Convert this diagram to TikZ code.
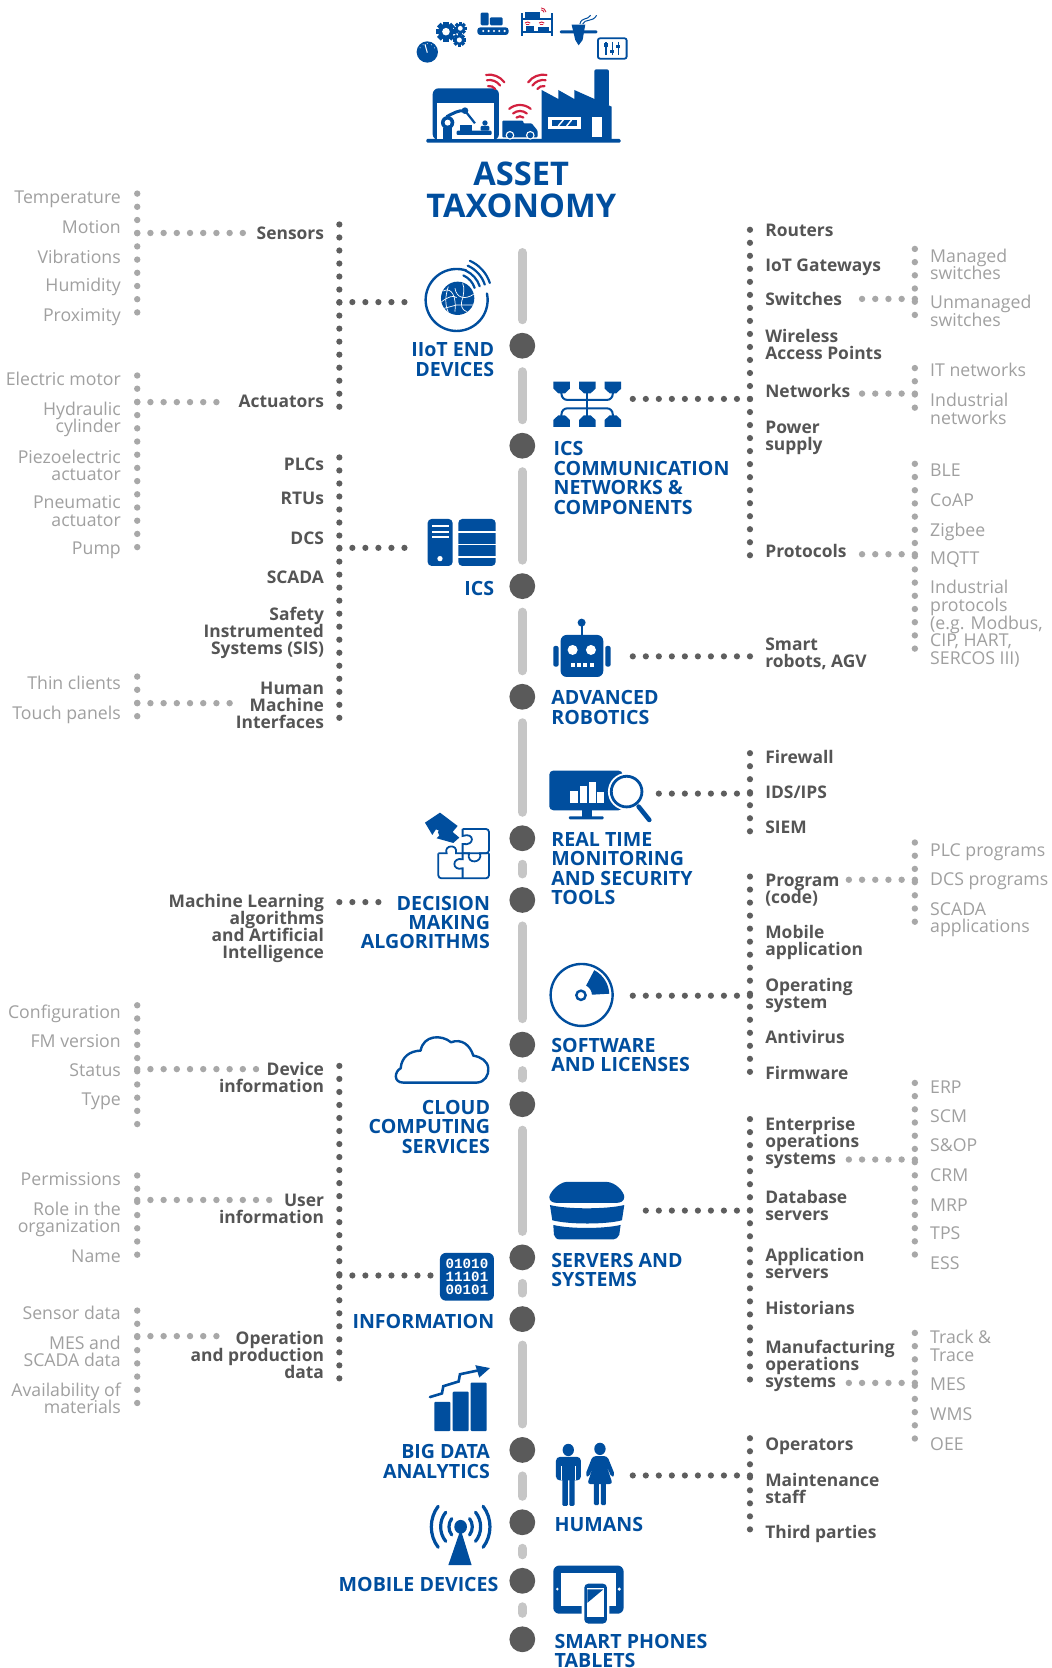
\documentclass[tikz,border=0pt]{standalone}
\usepackage{fontspec}
\setmainfont{Open Sans}
\newfontfamily\binfont{Liberation Mono}
\definecolor{blu}{HTML}{004E9E}
\definecolor{rd}{HTML}{D2213F}
\definecolor{dkt}{HTML}{555555}
\definecolor{ltt}{HTML}{A0A0A0}
\definecolor{dkd}{HTML}{5E5E5E}
\definecolor{ltd}{HTML}{A8A8A8}
\definecolor{spn}{HTML}{C6C6C6}
\definecolor{hubc}{HTML}{5A5A5A}
\tikzset{
 lr/.style={font=\fontsize{8.85}{8.8}\selectfont\lineskiplimit -20pt\relax,text=ltt,inner sep=0,align=right,anchor=base east,yshift=-3.4pt,xshift=.5pt},
 ll/.style={lr,align=left,anchor=base west,xshift=-1pt},
 dr/.style={font=\bfseries\fontsize{8.7}{8.5}\selectfont\lineskiplimit -20pt\relax,text=dkt,inner sep=0,align=right,anchor=base east,yshift=-3.4pt,xshift=.5pt},
 dl/.style={dr,align=left,anchor=base west,xshift=-1pt},
 br/.style={font=\bfseries\fontsize{9.8}{9.7}\selectfont\lineskiplimit -20pt\relax,text=blu,inner sep=0,align=right,anchor=base east,yshift=-4pt},
 bl/.style={br,align=left,anchor=base west},
 ttl/.style={font=\bfseries\fontsize{16.3}{16}\selectfont\lineskiplimit -20pt\relax,text=blu,inner sep=0,align=center,anchor=base,yshift=-5.8pt},
 hub/.style={circle,fill=hubc,minimum size=12.9pt,inner sep=0},
 spine/.style={color=spn,line width=4.6pt,line cap=round,shorten <=6.4pt,shorten >=6.4pt},
 dd/.style={color=dkd,line width=3.1pt,line cap=round,dash pattern=on 0pt off 6.51pt},
 ld/.style={color=ltd,line width=3.2pt,line cap=round,dash pattern=on 0pt off 6.6pt},
 z1/.style={shift={(329,0)},scale=.3133},
 z4/.style={shift={(376,470)},scale=.3133},
 z5/.style={shift={(366.6,1034)},xscale=.3133,yscale=.3406},
}
\newcommand{\Wifi}[6][rd]{% colour, cx,cy, dir, half, list
 \foreach \r/\w in {#6}{\draw[#1,line width=\w pt,line cap=round] (#2,#3) ++(#4-#5:\r) arc[start angle=#4-#5,end angle=#4+#5,radius=\r];}}
\newcommand{\Gear}[3]{% x,y,r
 \foreach \a in {0,45,...,315}{\fill[blu,rotate around={\a:(#1,#2)}] (#1-.26*#3,#2) rectangle (#1+.26*#3,#2-#3);}
 \fill[blu] (#1,#2) circle (.78*#3);
 \fill[white] (#1,#2) circle (.38*#3);}
\begin{document}
\begin{tikzpicture}[x=0.5319pt,y=-0.5319pt]
\useasboundingbox (0,0) rectangle (988,1568);
\fill[white] (0,0) rectangle (988,1568);
%---------- spine
\coordinate (c0) at (491,237.5);
\foreach \n/\y in {1/325,2/419,3/551,4/655,5/788,6/846,7/982,8/1038,9/1182,10/1240,11/1363,12/1431,13/1486,14/1541}{\node[hub] (c\n) at (491,\y) {};}
\draw[spine,shorten <=0pt] (c0) -- (c1);
\foreach \a/\b in {1/2,2/3,3/4,4/5,5/6,6/7,7/8,8/9,9/10,10/11,11/12,12/13,13/14}{\draw[spine] (c\a) -- (c\b);}
%---------- dotted connectors: left light
\coordinate (a1) at (129,182); \coordinate (a2) at (129,296); \coordinate (a3) at (129,219); \coordinate (a4) at (230,219);
\coordinate (b1) at (129,353); \coordinate (b2) at (129,523); \coordinate (b3) at (129,378); \coordinate (b4) at (215,378);
\coordinate (e1) at (129,636); \coordinate (e2) at (129,677); \coordinate (e3) at (129,661); \coordinate (e4) at (224,661);
\coordinate (f1) at (129,945); \coordinate (f2) at (129,1066); \coordinate (f3) at (129,1005); \coordinate (f4) at (242,1005);
\coordinate (g1) at (129,1105); \coordinate (g2) at (129,1186); \coordinate (g3) at (129,1128); \coordinate (g4) at (254,1128);
\coordinate (h1) at (129,1232); \coordinate (h2) at (129,1326); \coordinate (h3) at (129,1256); \coordinate (h4) at (210,1256);
\foreach \k in {a,b,e,f,g,h}{\draw[ld] (\k1) -- (\k2); \draw[ld] (\k3) -- (\k4);}
%---------- left dark
\coordinate (i1) at (319,211); \coordinate (i2) at (319,383); \coordinate (i3) at (319,284); \coordinate (i4) at (387.5,284);
\coordinate (j1) at (319,430); \coordinate (j2) at (319,683); \coordinate (j3) at (319,515); \coordinate (j4) at (387.5,515);
\coordinate (k3) at (319,848); \coordinate (k4) at (363,848);
\coordinate (l1) at (319,1002); \coordinate (l2) at (319,1299); \coordinate (l3) at (319,1199); \coordinate (l4) at (405,1199);
\foreach \k in {i,j,l}{\draw[dd] (\k1) -- (\k2);}
\foreach \k in {i,j,k,l}{\draw[dd] (\k3) -- (\k4);}
%---------- right dark
\coordinate (m1) at (705,216); \coordinate (m2) at (705,522); \coordinate (m3) at (705,375); \coordinate (m4) at (593,375);
\coordinate (n3) at (705,617); \coordinate (n4) at (586,617);
\coordinate (o1) at (705,708); \coordinate (o2) at (705,786); \coordinate (o3) at (705,746); \coordinate (o4) at (617,746);
\coordinate (p1) at (705,824); \coordinate (p2) at (705,1013); \coordinate (p3) at (705,936); \coordinate (p4) at (591,936);
\coordinate (q1) at (705,1052); \coordinate (q2) at (705,1306); \coordinate (q3) at (705,1138); \coordinate (q4) at (600,1138);
\coordinate (r1) at (705,1352); \coordinate (r2) at (705,1448); \coordinate (r3) at (705,1387); \coordinate (r4) at (591,1387);
\foreach \k in {m,o,p,q,r}{\draw[dd] (\k1) -- (\k2);}
\foreach \k in {m,n,o,p,q,r}{\draw[dd] (\k3) -- (\k4);}
%---------- right light
\coordinate (s1) at (860,234); \coordinate (s2) at (860,305); \coordinate (s3) at (860,281); \coordinate (s4) at (806,281);
\coordinate (t1) at (860,346); \coordinate (t2) at (860,395); \coordinate (t3) at (860,370); \coordinate (t4) at (809,370);
\coordinate (u1) at (860,436); \coordinate (u2) at (860,618); \coordinate (u3) at (860,521); \coordinate (u4) at (809,521);
\coordinate (v1) at (860,792); \coordinate (v2) at (860,877); \coordinate (v3) at (860,827); \coordinate (v4) at (797,827);
\coordinate (w1) at (860,1018); \coordinate (w2) at (860,1190); \coordinate (w3) at (860,1090); \coordinate (w4) at (797,1090);
\coordinate (y1) at (860,1253); \coordinate (y2) at (860,1361); \coordinate (y3) at (860,1300); \coordinate (y4) at (797,1300);
\foreach \k in {s,t,u,v,w,y}{\draw[ld] (\k1) -- (\k2); \draw[ld] (\k3) -- (\k4);}
%---------- title
\node[ttl] (title) at (490,194) {ASSET\\TAXONOMY};
%---------- left light text
\node[lr] (l01) at (113,185) {Temperature};
\node[lr] (l02) at (113,213) {Motion};
\node[lr] (l03) at (113,241) {Vibrations};
\node[lr] (l04) at (113,268) {Humidity};
\node[lr] (l05) at (113,296) {Proximity};
\node[lr] (l06) at (113,356) {Electric motor};
\node[lr] (l07) at (113,400.5) {Hydraulic\\cylinder};
\node[lr] (l08) at (113,445.5) {Piezoelectric\\actuator};
\node[lr] (l09) at (113,488.5) {Pneumatic\\actuator};
\node[lr] (l10) at (113,515) {Pump};
\node[lr] (l11) at (113,642) {Thin clients};
\node[lr] (l12) at (113,670) {Touch panels};
\node[lr] (l13) at (113,951) {Configuration};
\node[lr] (l14) at (113,978) {FM version};
\node[lr] (l15) at (113,1006) {Status};
\node[lr] (l16) at (113,1033) {Type};
\node[lr] (l17) at (113,1108) {Permissions};
\node[lr] (l18) at (113,1152.5) {Role in the\\organization};
\node[lr] (l19) at (113,1180) {Name};
\node[lr] (l20) at (113,1234) {Sensor data};
\node[lr] (l21) at (113,1278.5) {MES and\\SCADA data};
\node[lr] (l22) at (113,1322.5) {Availability of\\materials};
%---------- left dark text
\node[dr] (d01) at (304,219) {Sensors};
\node[dr] (d02) at (304,377) {Actuators};
\node[dr] (d03) at (304,436) {PLCs};
\node[dr] (d04) at (304,468) {RTUs};
\node[dr] (d05) at (304,505) {DCS};
\node[dr] (d06) at (304,542) {SCADA};
\node[dr] (d07) at (304,609) {Safety\\Instrumented\\Systems (SIS)};
\node[dr] (d08) at (304,678) {Human\\Machine\\Interfaces};
\node[dr] (d09) at (304,895) {Machine Learning\\algorithms\\and Artificial\\Intelligence};
\node[dr] (d10) at (304,1021) {Device\\information};
\node[dr] (d11) at (304,1144) {User\\information};
\node[dr] (d12) at (304,1289) {Operation\\and production\\data};
%---------- right dark text
\node[dl] (r01) at (720,216) {Routers};
\node[dl] (r02) at (720,249) {IoT Gateways};
\node[dl] (r03) at (720,281) {Switches};
\node[dl] (r04) at (720,332) {Wireless\\Access Points};
\node[dl] (r05) at (720,367) {Networks};
\node[dl] (r06) at (720,417) {Power\\supply};
\node[dl] (r07) at (720,518) {Protocols};
\node[dl] (r08) at (720,621) {Smart\\robots, AGV};
\node[dl] (r09) at (720,711) {Firewall};
\node[dl] (r10) at (720,744) {IDS/IPS};
\node[dl] (r11) at (720,777) {SIEM};
\node[dl] (r12) at (720,843) {Program\\(code)};
\node[dl] (r13) at (720,892) {Mobile\\application};
\node[dl] (r14) at (720,942) {Operating\\system};
\node[dl] (r15) at (720,975) {Antivirus};
\node[dl] (r16) at (720,1008) {Firmware};
\node[dl] (r17) at (720,1088) {Enterprise\\operations\\systems};
\node[dl] (r18) at (720,1141) {Database\\servers};
\node[dl] (r19) at (720,1195) {Application\\servers};
\node[dl] (r20) at (720,1229) {Historians};
\node[dl] (r21) at (720,1298) {Manufacturing\\operations\\systems};
\node[dl] (r22) at (720,1357) {Operators};
\node[dl] (r23) at (720,1407) {Maintenance\\staff};
\node[dl] (r24) at (720,1440) {Third parties};
%---------- right light text
\node[ll] (x01) at (875,256.5) {Managed\\switches};
\node[ll] (x02) at (875,300.5) {Unmanaged\\switches};
\node[ll] (x03) at (875,348) {IT networks};
\node[ll] (x04) at (875,392.5) {Industrial\\networks};
\node[ll] (x05) at (875,442) {BLE};
\node[ll] (x06) at (875,470) {CoAP};
\node[ll] (x07) at (875,498) {Zigbee};
\node[ll] (x08) at (875,524) {MQTT};
\node[ll] (x09) at (875,618) {Industrial\\protocols\\(e.g. Modbus,\\CIP, HART,\\SERCOS III)};
\node[ll] (x10) at (875,799) {PLC programs};
\node[ll] (x11) at (875,826) {DCS programs};
\node[ll] (x12) at (875,870.5) {SCADA\\applications};
\node[ll] (x13) at (875,1022) {ERP};
\node[ll] (x14) at (875,1049) {SCM};
\node[ll] (x15) at (875,1076) {S\&OP};
\node[ll] (x16) at (875,1104) {CRM};
\node[ll] (x17) at (875,1132) {MRP};
\node[ll] (x18) at (875,1159) {TPS};
\node[ll] (x19) at (875,1187) {ESS};
\node[ll] (x20) at (875,1273.5) {Track \&\\Trace};
\node[ll] (x21) at (875,1301) {MES};
\node[ll] (x22) at (875,1329) {WMS};
\node[ll] (x23) at (875,1357) {OEE};
%---------- blue text
\node[br] (t01) at (465,346.2) {IIoT END\\DEVICES};
\node[br] (t02) at (465,552) {ICS};
\node[br] (t03) at (461,884.5) {DECISION\\MAKING\\ALGORITHMS};
\node[br] (t04) at (461,1076.5) {CLOUD\\COMPUTING\\SERVICES};
\node[br] (t05) at (465,1241) {INFORMATION};
\node[br] (t06) at (461,1382.2) {BIG DATA\\ANALYTICS};
\node[br] (t07) at (469,1489) {MOBILE DEVICES};
\node[bl] (t08) at (520,475.7) {ICS\\COMMUNICATION\\NETWORKS \&\\COMPONENTS};
\node[bl] (t09) at (518,673.2) {ADVANCED\\ROBOTICS};
\node[bl] (t10) at (518,842.7) {REAL TIME\\MONITORING\\AND SECURITY\\TOOLS};
\node[bl] (t11) at (518,1000.2) {SOFTWARE\\AND LICENSES};
\node[bl] (t12) at (518,1202.2) {SERVERS AND\\SYSTEMS};
\node[bl] (t13) at (521,1432) {HUMANS};
\node[bl] (t14) at (521,1560.2) {SMART PHONES\\TABLETS};
%---------- top icons
\begin{scope}[z1]
 % gauge
 \fill[blu] (232,156) circle (32);
 \draw[white,line width=.5pt] (232,158) -- (225,133);
 \foreach \a in {-150,-120,-90,-60,-30}{\fill[white] (232,156) ++(\a:25) circle (1.5);}
 % gears
 \Gear{288}{95}{30}\Gear{331}{85}{19}\Gear{328}{120}{20}
 % conveyor
 \fill[blu,rounded corners=.6pt] (392,38) rectangle (416,76);
 \fill[blu,rounded corners=.6pt] (420,52) rectangle (458,76);
 \fill[blu,rounded corners=1.5pt] (382,82) rectangle (476,105);
 \foreach \x in {400,416,432,448,464}{\fill[white] (\x,93) circle (3.5);}
 % shelf
 \fill[blu] (513,38) rectangle (519,108); \fill[blu] (602,38) rectangle (608,108);
 \fill[blu] (513,54) rectangle (608,60); \fill[blu] (513,93) rectangle (608,99);
 \fill[blu] (526,36) rectangle (570,53);
 \fill[blu] (528,78) rectangle (553,93); \fill[blu] (565,80) rectangle (598,93);
 \Wifi{574}{38}{-50}{40}{8/.45,14/.45}
 \Wifi{533}{76}{-90}{45}{5/.5,10/.5}
 \Wifi{575}{76}{-90}{45}{5/.5,10/.5}
 % printer
 \fill[blu,rounded corners=.5pt] (630,91) rectangle (742,100);
 \fill[blu] (665,74) -- (706,74) -- (698,120) -- (686,136) -- (676,120) -- cycle;
 \draw[blu,line width=.5pt] (690,72) .. controls (695,50) and (712,62) .. (722,46);
 \draw[blu,line width=.5pt] (698,72) .. controls (705,55) and (728,68) .. (740,46);
 % mixer
 \draw[blu,line width=.9pt,rounded corners=1pt] (744,115) rectangle (830,176);
 \foreach \x/\k in {768/135,787/155,805/140}{\draw[blu,line width=.65pt] (\x,126) -- (\x,166); \fill[blu] (\x-6,\k-5) rectangle (\x+6,\k+5);}
 % factory
 \fill[blu,rounded corners=.6pt] (229,417) rectangle (812,428);
 \fill[blu,rounded corners=3pt] (248,420) -- (248,265) -- (447,265) -- (447,420) -- cycle;
 \fill[white] (262,310) rectangle (433,417);
 \fill[blu] (280,385) rectangle (305,417);
 \fill[blu] (293,368) circle (20); \fill[white] (293,368) circle (9);
 \draw[blu,line width=1.5pt] (290,350) .. controls (310,340) and (325,330) .. (345,332);
 \draw[blu,line width=1.1pt] (345,332) -- (375,370);
 \fill[blu] (345,332) circle (10);
 \fill[blu,rounded corners=.5pt] (320,392) rectangle (425,405);
 \fill[blu] (330,375) rectangle (365,392);
 \fill[blu] (405,369) circle (8); \fill[blu,rounded corners=.5pt] (392,378) rectangle (418,392);
 \Wifi{418}{280}{-68}{32}{22/1.1,40/1.1,56/1.1}
 \Wifi{580}{280}{-112}{32}{22/1.1,40/1.1,56/1.1}
 \Wifi{510}{365}{-90}{40}{16/1.1,32/1.1,50/1.1}
 \fill[blu,rounded corners=.5pt] (457,362) -- (520,362) -- (520,370) -- (545,370) -- (563,392) -- (563,412) -- (457,412) -- cycle;
 \foreach \x in {480,541}{\fill[white] (\x,406) circle (13); \fill[blu] (\x,406) circle (9);}
 \fill[blu,rounded corners=1pt] (733,208) rectangle (777,320);
 \fill[blu] (575,418) -- (575,270) -- (625,297) -- (625,270) -- (673,297) -- (673,270) -- (785,320) -- (785,418) -- cycle;
 \fill[white] (595,350) rectangle (692,388);
 \fill[blu] (607,361) rectangle (680,377);
 \draw[white,line width=.7pt] (625,378) -- (640,360);
 \draw[white,line width=.7pt] (650,378) -- (665,360);
 \fill[white] (725,352) rectangle (757,410);
\end{scope}
%---------- IIoT
\begin{scope}[shift={(390.1,239.7)},scale=.3133]
 \draw[blu,line width=1.2pt,line cap=round] (125,135) ++(-72:93) arc[start angle=-72,end angle=-372,radius=93];
 \fill[blu] (128,130) circle (50);
 \draw[white,line width=.35pt] (85,108) .. controls (110,95) and (125,125) .. (120,170);
 \draw[white,line width=.35pt] (120,100) .. controls (125,130) and (150,135) .. (176,118);
 \draw[white,line width=.35pt] (80,140) .. controls (100,125) and (115,120) .. (125,128);
 \draw[white,line width=.35pt] (100,95) .. controls (90,125) and (90,150) .. (100,172);
 \draw[white,line width=.35pt] (143,130) .. controls (135,150) and (140,165) .. (155,170);
 \draw[white,line width=.35pt] (143,85) .. controls (150,100) and (145,120) .. (143,130);
 \draw[white,line width=.35pt] (88,160) -- (125,150) -- (175,150);
 \Wifi[blu]{120}{118}{-42}{24}{62/1.1,78/1.1,94/1.1,110/1.1}
\end{scope}
%---------- ICS + robot + monitor (zoom 4 frame)
\begin{scope}[z4]
 \fill[blu,rounded corners=2pt] (83,57) rectangle (158,198);
 \fill[white] (95,76) rectangle (146,82); \fill[white] (95,92) rectangle (146,98); \fill[white] (95,108) rectangle (146,114);
 \fill[white] (120,176) circle (8);
 \fill[blu,rounded corners=2pt] (175,57) rectangle (287,198);
 \fill[white] (175,94) rectangle (287,99); \fill[white] (175,131) rectangle (287,136); \fill[white] (175,168) rectangle (287,173);
 % robot
 \fill[blu,rounded corners=3pt] (482,405) rectangle (610,531);
 \draw[blu,line width=.9pt] (545,405) -- (545,370); \fill[blu] (545,368) circle (12);
 \fill[white] (518,450) circle (15); \fill[white] (573,450) circle (15);
 \foreach \x in {518,537,556,575}{\fill[white] (\x-6,490) rectangle (\x+6,502);}
 \fill[blu,rounded corners=1pt] (460,438) rectangle (476,500);
 \fill[blu,rounded corners=1pt] (616,438) rectangle (632,500);
 % monitor
 \fill[blu,rounded corners=2pt] (448,812) rectangle (668,931);
 \fill[blu] (545,930) rectangle (575,950);
 \fill[blu,rounded corners=.5pt] (507,949) rectangle (611,958);
 \fill[white] (510,872) rectangle (533,910); \fill[white] (539,858) rectangle (560,910);
 \fill[white] (567,847) rectangle (587,910); \fill[white] (591,877) rectangle (612,910);
 \fill[white] (680,875) circle (56);
 \draw[blu,line width=1.4pt,fill=white] (680,875) circle (46);
 \draw[blu,line width=2.3pt,line cap=round] (716,920) -- (748,960);
\end{scope}
%---------- network
\begin{scope}[shift={(470,188)},xscale=.3303,yscale=.3133]
 \foreach \x in {152,225,298}{
  \fill[blu] (\x,545) -- (\x+47,545) -- (\x+47,566) -- (\x+33,580) -- (\x+14,580) -- (\x,566) -- cycle;
  \fill[blu] (\x,681) -- (\x+47,681) -- (\x+47,660) -- (\x+33,646) -- (\x+14,646) -- (\x,660) -- cycle;}
 \draw[blu,line width=1pt,rounded corners=3pt] (175,575) -- (175,600) -- (321,600) -- (321,575);
 \draw[blu,line width=1pt,rounded corners=3pt] (175,650) -- (175,625) -- (321,625) -- (321,650);
 \draw[blu,line width=1pt] (248,575) -- (248,650);
\end{scope}
%---------- puzzle
\begin{scope}[shift={(376,752)},scale=.3133]
 \draw[blu,line width=.9pt,rounded corners=1.5pt] (188,87) -- (267,87) -- (267,160) -- (188,160);
 \draw[blu,line width=.9pt,rounded corners=1.5pt] (267,160) -- (267,235) -- (115,235) -- (115,160);
 \draw[blu,line width=.9pt] (115,160) -- (140,160) .. controls (130,135) and (175,130) .. (168,160) -- (207,160) .. controls (198,195) and (250,190) .. (240,160) -- (267,160);
 \draw[blu,line width=.9pt] (188,87) -- (188,108) .. controls (225,95) and (225,140) .. (188,132) -- (188,178) .. controls (155,170) and (155,215) .. (188,205) -- (188,235);
 \fill[blu] (120,38) -- (173,78) -- (158,96) -- (178,113) -- (160,129) -- (110,115) -- (128,97) -- (108,88) -- (97,105) -- (75,68) -- cycle;
 \fill[blu] (128,97) circle (14);
\end{scope}
%---------- disc
\begin{scope}[shift={(498.2,893)},scale=.3133]
 \draw[blu,line width=1.2pt] (155,135) circle (93);
 \draw[blu,line width=1.2pt] (153,136) circle (14);
 \fill[blu] (153,136) ++(-62:33) arc[start angle=-62,end angle=-3,radius=33] -- ++(52,-3) arc[start angle=-3,end angle=-62,radius=85] -- cycle;
\end{scope}
%---------- cloud
\begin{scope}[shift={(361.9,963.5)},scale=.3133]
 \draw[blu,line width=1.2pt,fill=white,line join=round] (55,173) -- (275,173) .. controls (300,172) and (312,150) .. (310,130) .. controls (308,108) and (288,96) .. (265,92) .. controls (255,60) and (230,40) .. (198,52) .. controls (170,28) and (115,30) .. (107,77) .. controls (75,78) and (50,95) .. (47,130) .. controls (28,140) and (25,173) .. (55,173) -- cycle;
\end{scope}
%---------- servers, information, big data, humans, antenna, tablet
\begin{scope}[z5]
 \fill[blu] (478,268) .. controls (480,255) and (505,228) .. (530,226) -- (650,226) .. controls (680,228) and (703,255) .. (703,268) .. controls (703,280) and (690,284) .. (680,284) -- (500,284) .. controls (490,284) and (478,280) .. (478,268) -- cycle;
 \fill[blu] (480,290) .. controls (530,302) and (650,302) .. (703,290) -- (696,332) .. controls (650,344) and (535,344) .. (487,332) -- cycle;
 \fill[blu] (490,345) .. controls (540,356) and (640,356) .. (692,345) -- (688,372) .. controls (684,380) and (678,385) .. (670,385) -- (510,385) .. controls (500,385) and (494,380) .. (492,372) -- cycle;
 \fill[blu,rounded corners=3pt] (150,422) rectangle (312,554);
 \node[text=white,font=\binfont\bfseries\fontsize{7.1}{6.5}\selectfont,inner sep=0,align=center] (bin) at (231,488) {01010\\11101\\00101};
 % big data
 \fill[blu,rounded corners=.5pt] (133,833) rectangle (181,914);
 \fill[blu,rounded corners=.5pt] (188,805) rectangle (236,914);
 \fill[blu,rounded corners=.5pt] (242,780) rectangle (290,914);
 \draw[blu,line width=1.3pt,line cap=round] (120,820) -- (156,810) -- (160,790) -- (206,777) -- (210,757) -- (262,747);
 \fill[blu] (256,732) -- (300,740) -- (268,766) -- cycle;
 % humans
 \fill[blu] (535,966) circle (17);
 \fill[blu,rounded corners=2pt] (498,985) rectangle (573,1050);
 \fill[white] (513,1010) rectangle (517,1050); \fill[white] (554,1010) rectangle (558,1050);
 \fill[blu,rounded corners=.6pt] (517,1040) rectangle (534,1120);
 \fill[blu,rounded corners=.6pt] (538,1040) rectangle (554,1120);
 \fill[blu] (630,963) circle (17);
 \fill[blu,rounded corners=1.5pt] (608,983) -- (652,983) -- (675,1035) -- (665,1042) -- (648,1005) -- (668,1060) -- (592,1060) -- (612,1005) -- (596,1042) -- (586,1035) -- cycle;
 \fill[blu,rounded corners=.6pt] (612,1050) rectangle (627,1118);
 \fill[blu,rounded corners=.6pt] (633,1050) rectangle (648,1118);
 % antenna
 \fill[blu] (212,1178) circle (19);
 \fill[blu] (212,1185) -- (175,1284) -- (245,1284) -- cycle;
 \foreach \s/\r/\h in {1/35/40,1/60/42,1/88/40}{
  \draw[blu,line width=1.6pt,line cap=round] (212,1178) ++(-\h:\r) arc[start angle=-\h,end angle=\h,radius=\r];
  \draw[blu,line width=1.6pt,line cap=round] (212,1178) ++(180-\h:\r) arc[start angle=180-\h,end angle=180+\h,radius=\r];}
 % tablet
 \fill[blu,rounded corners=3pt] (490,1285) rectangle (701,1418);
 \fill[white] (512,1305) rectangle (678,1396);
 \fill[white] (502,1350) circle (4); \fill[white] (688,1350) circle (5);
 \fill[white,rounded corners=2pt] (575,1328) rectangle (658,1450);
 \fill[blu,rounded corners=2pt] (583,1335) rectangle (651,1445);
 \fill[white] (590,1348) rectangle (643,1428);
 \fill[blu] (592,1351) -- (640,1351) -- (592,1388) -- cycle;
\end{scope}
\end{tikzpicture}
\end{document}
